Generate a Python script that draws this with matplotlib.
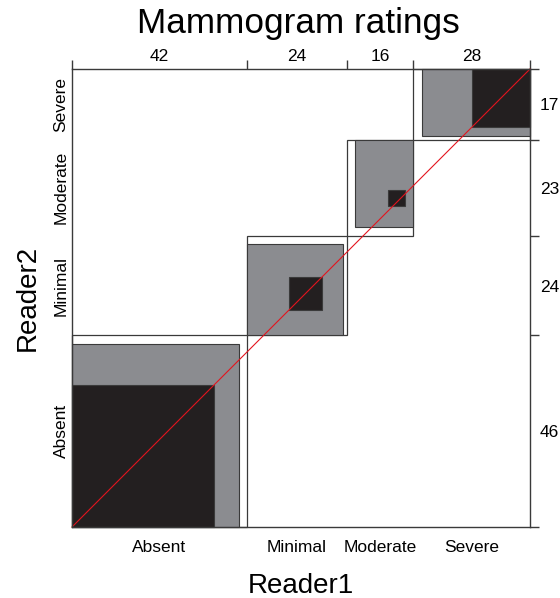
import numpy as np
import matplotlib
matplotlib.use("Agg")
import matplotlib.pyplot as plt
from matplotlib.patches import Rectangle

plt.rcParams['font.family'] = ['Liberation Sans', 'DejaVu Sans']

# Data: rows = Reader2, columns = Reader1
categories = ["Absent", "Minimal", "Moderate", "Severe"]
row_absent = [34, 10, 2, 0]
row_minimal = [6, 8, 8, 2]
row_moderate = [2, 5, 4, 12]
row_severe = [0, 1, 2, 14]

counts = np.array([row_absent, row_minimal, row_moderate, row_severe])
k = len(categories)
col_tot = counts.sum(axis=0)
row_tot = counts.sum(axis=1)
n = counts.sum()
xc = np.concatenate([[0], np.cumsum(col_tot)])
yc = np.concatenate([[0], np.cumsum(row_tot)])

W, H = 560, 598
fig = plt.figure(figsize=(W / 100, H / 100), dpi=100)
ax = fig.add_axes([72 / W, 1 - 527 / H, 458 / W, 458 / H])
ax.set_xlim(0, n)
ax.set_ylim(0, n)

# top / right: marginal totals (twins created first)
ax_top = ax.twiny()
ax_right = ax.twinx()

edge = "#3a3a3a"
gray_fill = "#8b8c90"
dark_fill = "#231f20"
fills = {1: dark_fill, 2: gray_fill}

for i in range(k):
    ax.add_patch(Rectangle((xc[i], yc[i]), col_tot[i], row_tot[i],
                           facecolor="white", edgecolor=edge, lw=0.9,
                           clip_on=False, zorder=1))
    for j in (2, 1):
        lo = max(0, i - j + 1)
        hi = min(k - 1, i + j - 1)
        x0 = xc[i] + counts[:lo, i].sum()
        w = counts[lo:hi + 1, i].sum()
        y0 = yc[i] + counts[i, :lo].sum()
        h = counts[i, lo:hi + 1].sum()
        ax.add_patch(Rectangle((x0, y0), w, h, facecolor=fills[j],
                               edgecolor=edge, lw=0.8, clip_on=False,
                               zorder=2))

ax.plot([0, n], [0, n], color="#e3141e", lw=0.8, zorder=5, clip_on=False)

for s in ax.spines.values():
    s.set_color(edge)
    s.set_linewidth(1.0)
    s.set_zorder(6)

mid_x = (xc[:-1] + xc[1:]) / 2
mid_y = (yc[:-1] + yc[1:]) / 2

# major ticks: boundaries, on top and right only
ax.set_xticks(xc)
ax.set_yticks(yc)
ax.set_xticks(mid_x, minor=True)
ax.set_yticks(mid_y, minor=True)
ax.set_xticklabels(categories, minor=True, fontsize=12.5)
ax.set_yticklabels(categories, minor=True, fontsize=12.5)
ax.tick_params(which="major", bottom=False, left=False, top=True,
               right=True, labelbottom=False, labelleft=False,
               labeltop=False, labelright=False, length=6.5, width=1.0,
               color=edge, direction="out")
ax.tick_params(which="minor", length=0, width=0, bottom=True, left=True,
               top=False, right=False, labelbottom=True, labelleft=True,
               labeltop=False, labelright=False)
ax.tick_params(axis="x", which="minor", pad=9.5)
ax.tick_params(axis="y", which="minor", pad=2.5)
for t in ax.get_yticklabels(minor=True):
    t.set_rotation(90)
    t.set_va("center")
    t.set_ha("right")

ax_top.set_xlim(0, n)
ax_top.set_xticks(mid_x)
ax_top.set_xticklabels([str(v) for v in col_tot], fontsize=12.5)
ax_top.tick_params(length=0, pad=3.5)
ax_right.set_ylim(0, n)
ax_right.set_yticks(mid_y)
ax_right.set_yticklabels([str(v) for v in row_tot], fontsize=12.5)
ax_right.tick_params(length=0, pad=7)
for a in (ax_top, ax_right):
    for s in a.spines.values():
        s.set_visible(False)

fig.text(298 / W, 1 - 33 / H, "Mammogram ratings", fontsize=25.3,
         ha="center", va="baseline")
fig.text((72 + 530) / 2 / W, 1 - 593 / H, "Reader1", fontsize=20,
         ha="center", va="baseline")
fig.text(35 / W, (1 - 298 / H), "Reader2", fontsize=20, ha="center",
         va="baseline", rotation=90, rotation_mode="anchor")

fig.savefig("out.png", dpi=100)
